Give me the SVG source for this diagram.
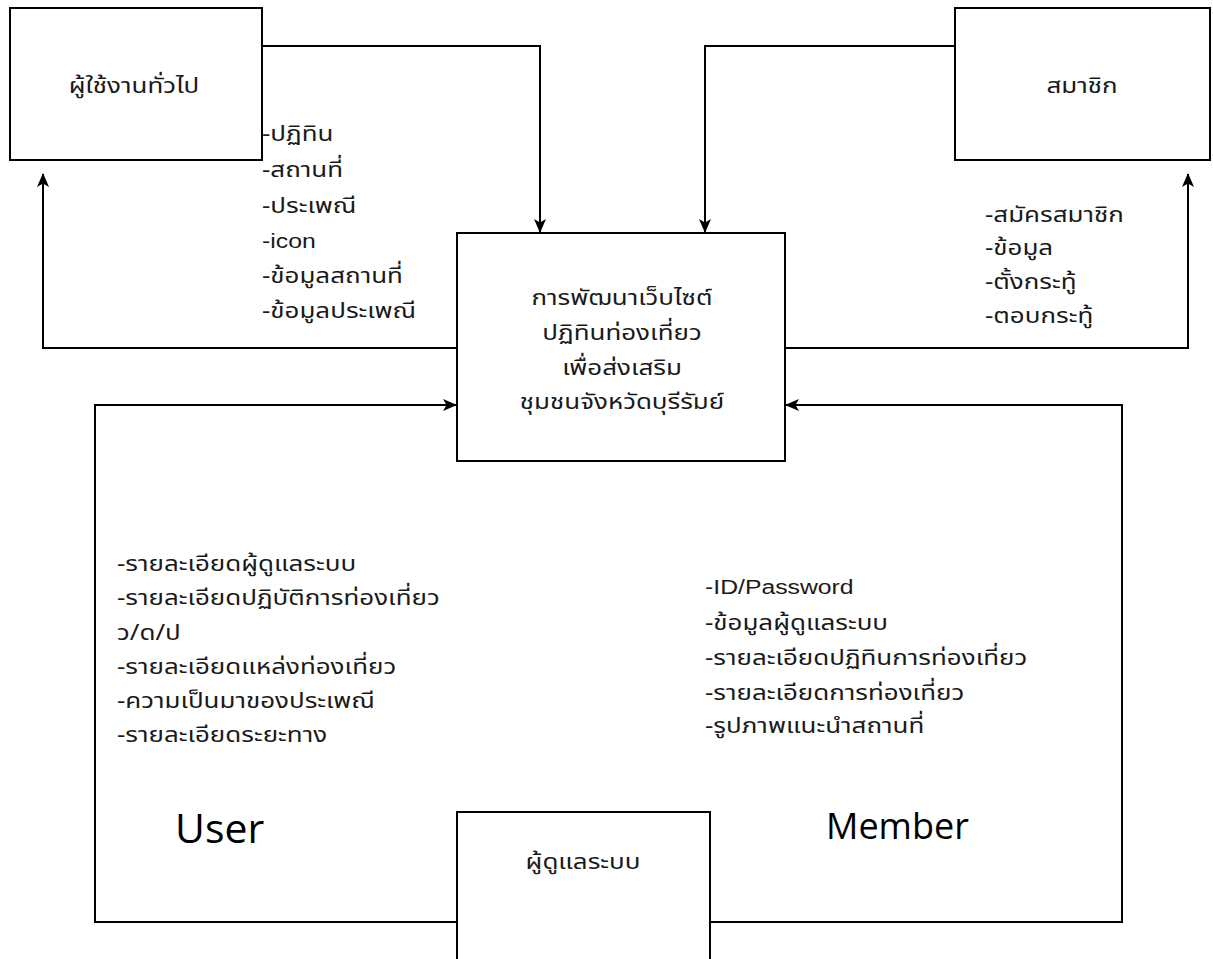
<svg xmlns="http://www.w3.org/2000/svg" width="1213" height="959" viewBox="0 0 1213 959">
<defs>
<marker id="arr" viewBox="0 0 14 12" markerWidth="14" markerHeight="12" refX="13" refY="6" orient="auto" markerUnits="userSpaceOnUse">
<path d="M0,0 L14,6 L0,12 L3.5,6 z" fill="#000"/>
</marker>
<style>
.box{fill:#fff;stroke:#000;stroke-width:2}
.ln{fill:none;stroke:#000;stroke-width:2}
.th{font-family:"Noto Sans Thai","Noto Sans","Liberation Sans",sans-serif;font-size:22px;fill:#1a1a1a}
.lat{font-family:"Liberation Sans",Arial,sans-serif;font-size:21px;fill:#1a1a1a}
.big{font-family:"Open Sans","Noto Sans",sans-serif;fill:#000}
</style>
</defs>
<rect width="1213" height="959" fill="#fff"/>
<g id="connectors">
<path class="ln" d="M262,46 H540 V232" marker-end="url(#arr)"/>
<path class="ln" d="M955,46 H705 V232" marker-end="url(#arr)"/>
<path class="ln" d="M457,348 H43 V174" marker-end="url(#arr)"/>
<path class="ln" d="M785,348 H1188 V174" marker-end="url(#arr)"/>
<path class="ln" d="M457,922 H95 V405 H456" marker-end="url(#arr)"/>
<path class="ln" d="M710,922 H1122 V405 H786" marker-end="url(#arr)"/>
</g>
<g id="node-general-user">
<rect class="box" x="10" y="8" width="252" height="152"/>
<g transform="translate(134,0) scale(1.18,1)"><text class="th" x="0" y="93" text-anchor="middle">ผู้ใช้งานทั่วไป</text></g>
</g>
<g id="node-member">
<rect class="box" x="955" y="8" width="255" height="152"/>
<g transform="translate(1082,0) scale(1.18,1)"><text class="th" x="0" y="93" text-anchor="middle">สมาชิก</text></g>
</g>
<g id="node-system">
<rect class="box" x="457" y="233" width="328" height="228"/>
<g transform="translate(622,0) scale(1.18,1)"><text class="th" x="0" text-anchor="middle"><tspan x="0" y="305">การพัฒนาเว็บไซต์</tspan><tspan x="0" y="340">ปฏิทินท่องเที่ยว</tspan><tspan x="0" y="375">เพื่อส่งเสริม</tspan><tspan x="0" y="409">ชุมชนจังหวัดบุรีรัมย์</tspan></text></g>
</g>
<g id="node-admin">
<rect class="box" x="457" y="812" width="253" height="160"/>
<g transform="translate(583,0) scale(1.18,1)"><text class="th" x="0" y="869" text-anchor="middle">ผู้ดูแลระบบ</text></g>
</g>
<g id="labels">
<g transform="translate(262,0) scale(1.18,1)"><text class="th" x="0"><tspan x="0" y="141">-ปฏิทิน</tspan><tspan x="0" y="177">-สถานที่</tspan><tspan x="0" y="213">-ประเพณี</tspan><tspan x="0" y="248" class="lat">-icon</tspan><tspan x="0" y="283">-ข้อมูลสถานที่</tspan><tspan x="0" y="318">-ข้อมูลประเพณี</tspan></text></g>
<g transform="translate(985,0) scale(1.18,1)"><text class="th" x="0"><tspan x="0" y="222">-สมัครสมาชิก</tspan><tspan x="0" y="255">-ข้อมูล</tspan><tspan x="0" y="289">-ตั้งกระทู้</tspan><tspan x="0" y="323">-ตอบกระทู้</tspan></text></g>
<g transform="translate(117,0) scale(1.18,1)"><text class="th" x="0"><tspan x="0" y="571">-รายละเอียดผู้ดูแลระบบ</tspan><tspan x="0" y="605">-รายละเอียดปฏิบัติการท่องเที่ยว</tspan><tspan x="0" y="640">ว/ด/ป</tspan><tspan x="0" y="674">-รายละเอียดแหล่งท่องเที่ยว</tspan><tspan x="0" y="708">-ความเป็นมาของประเพณี</tspan><tspan x="0" y="742">-รายละเอียดระยะทาง</tspan></text></g>
<g transform="translate(705,0) scale(1.18,1)"><text class="th" x="0"><tspan x="0" y="594" class="lat">-ID/Password</tspan><tspan x="0" y="630">-ข้อมูลผู้ดูแลระบบ</tspan><tspan x="0" y="665">-รายละเอียดปฏิทินการท่องเที่ยว</tspan><tspan x="0" y="700">-รายละเอียดการท่องเที่ยว</tspan><tspan x="0" y="733">-รูปภาพแนะนำสถานที่</tspan></text></g>
<text class="big" x="175" y="843" font-size="41">User</text>
<text class="big" x="826" y="839" font-size="36">Member</text>
</g>
</svg>
